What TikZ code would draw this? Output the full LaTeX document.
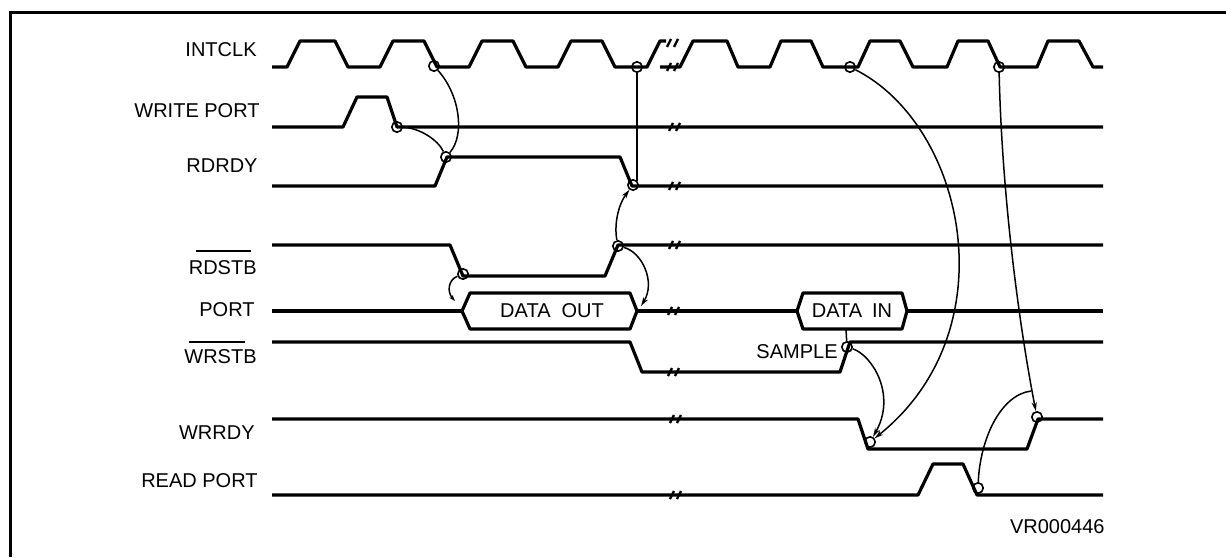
\documentclass[tikz,border=0pt]{standalone}
\usepackage{fontspec}
\setmainfont{Liberation Sans}
\usetikzlibrary{arrows.meta,calc}
\begin{document}
\begin{tikzpicture}[x=0.5pt,y=-0.5pt,
  sig/.style={line width=1.6pt, line join=round, line cap=butt},
  conn/.style={line width=0.75pt},
  ring/.style={circle, draw, line width=0.8pt, minimum size=5.2pt, inner sep=0pt},
  lab/.style={anchor=east, inner sep=0pt, font=\fontsize{10pt}{12pt}\selectfont},
  boxtxt/.style={inner sep=0pt, font=\fontsize{10pt}{12pt}\selectfont},
  arr/.style={conn, -{Stealth[length=4.5pt,width=2.6pt]}},
  sarr/.style={conn, -{Stealth[length=3.2pt,width=2.2pt]}},
  brk/.pic={\draw[line width=1.2pt] (-5,4)--(-1,-4) (2,4)--(6,-4);}
]
\useasboundingbox (0,0) rectangle (1226,557);
% frame
\draw[line width=1.3pt] (10.5,557) -- (10.5,12.5) -- (1226,12.5);

% labels
\node[lab] (lclk)   at (257,50)  {INTCLK};
\node[lab] (lwp)    at (260,111) {WRITE PORT};
\node[lab] (lrdrdy) at (258,166) {RDRDY};
\node[lab] (lrdstb) at (257,268) {RDSTB};
\node[lab] (lport)  at (255,310) {PORT};
\node[lab] (lwrstb) at (257,357) {WRSTB};
\node[lab] (lwrrdy) at (255,433) {WRRDY};
\node[lab] (lrp)    at (258,481) {READ PORT};
\draw[line width=0.65pt] (196,251) -- (251,251);
\draw[line width=0.65pt] (189,342) -- (245,342);

% INTCLK
\draw[sig] (272,67)--(287,67)--(300,41)--(335,41)--(348,67)--(380,67)--(393,41)--(424,41)--(437,67)--(469,67)--(482,41)--(513,41)--(526,67)--(558,67)--(571,41)--(602,41)--(615,67)--(647,67)--(660,41)--(666,41);
\draw[sig] (660,67)--(680,67)--(693,41)--(727,41)--(738,67)--(770,67)--(781,41)--(811,41)--(823,67)--(858,67)--(870,41)--(900,41)--(913,67)--(947,67)--(958,41)--(988,41)--(1000,67)--(1037,67)--(1048,41)--(1079,41)--(1093,67)--(1103,67);
\pic at (672,43) {brk};
\pic at (672,67) {brk};

% WRITE PORT
\draw[sig] (272,127)--(343,127)--(357,97)--(387,97)--(397,127)--(1103,127);
\pic at (674,127) {brk};
% RDRDY
\draw[sig] (272,186)--(435,186)--(447,157)--(620,157)--(632,186)--(1103,186);
\pic at (674,186) {brk};
% RDSTB
\draw[sig] (272,245)--(450,245)--(463,276)--(605,276)--(618,245)--(1103,245);
\pic at (674,245) {brk};
% PORT
\draw[sig] (272,311)--(462,311);
\draw[sig] (462,311)--(470,293)--(630,293)--(637,311)--(630,329)--(470,329)--cycle;
\draw[sig] (637,311)--(797,311);
\draw[sig] (797,311)--(803,293)--(902,293)--(907,311)--(902,329)--(803,329)--cycle;
\draw[sig] (907,311)--(1103,311);
\pic at (673,311) {brk};
\node[boxtxt] (dout) at (552,311) {DATA\hspace{0.55em}OUT};
\node[boxtxt] (din) at (852,311) {DATA\hspace{0.5em}IN};
% WRSTB
\draw[sig] (272,342)--(630,342)--(642,372)--(840,372)--(850,342)--(1103,342);
\pic at (673,372) {brk};
\node[lab] (samp) at (838,352) {SAMPLE};
% WRRDY
\draw[sig] (272,419)--(858,419)--(868,449)--(1027,449)--(1038,419)--(1103,419);
\pic at (675,419) {brk};
% READ PORT
\draw[sig] (272,495)--(918,495)--(933,464)--(963,464)--(977,495)--(1103,495);
\pic at (675,495) {brk};

\node[lab] (vr) at (1105,527) {VR000446};

% rings
\node[ring] (c1)  at (434,66)  {};
\node[ring] (c2)  at (637,67)  {};
\node[ring] (c3)  at (850,67)  {};
\node[ring] (c4)  at (999,67)  {};
\node[ring] (wp)  at (397,127) {};
\node[ring] (rd1) at (446,157) {};
\node[ring] (rd2) at (633,185) {};
\node[ring] (rs1) at (463,274) {};
\node[ring] (rs2) at (618,246) {};
\node[ring] (sc)  at (847,347) {};
\node[ring] (wr1) at (870,442) {};
\node[ring] (wr2) at (1037,417) {};
\node[ring] (rp)  at (978,488) {};
\coordinate (doutR) at (641,306);
\coordinate (rsT) at (455,301);
\coordinate (dinB) at (846,329);
\coordinate (rpj) at (1031,391);

% connectors
\draw[conn] (c1) .. controls (460,95) and (465,135) .. (rd1);
\draw[conn] (wp) .. controls (420,128) and (438,140) .. (rd1);
\draw[conn] (c2.south) -- (c2.south |- rd2.north east);
\draw[arr] (rs2) .. controls (614,225) and (618,205) .. (rd2);
\draw[arr] (rs2) .. controls (642,252) and (656,282) .. (doutR);
\draw[sarr] (rs1) .. controls (448,280) and (447,292) .. (rsT);
\draw[conn] (dinB) -- (sc);
\draw[arr] (c3) .. controls (965,125) and (1010,330) .. (wr1);
\draw[arr] (sc) .. controls (872,355) and (897,395) .. (wr1);
\draw[arr] (c4) .. controls (1002,200) and (1020,330) .. (wr2);
\draw[conn] (rp) .. controls (980,440) and (1000,395) .. (rpj);
\end{tikzpicture}
\end{document}
